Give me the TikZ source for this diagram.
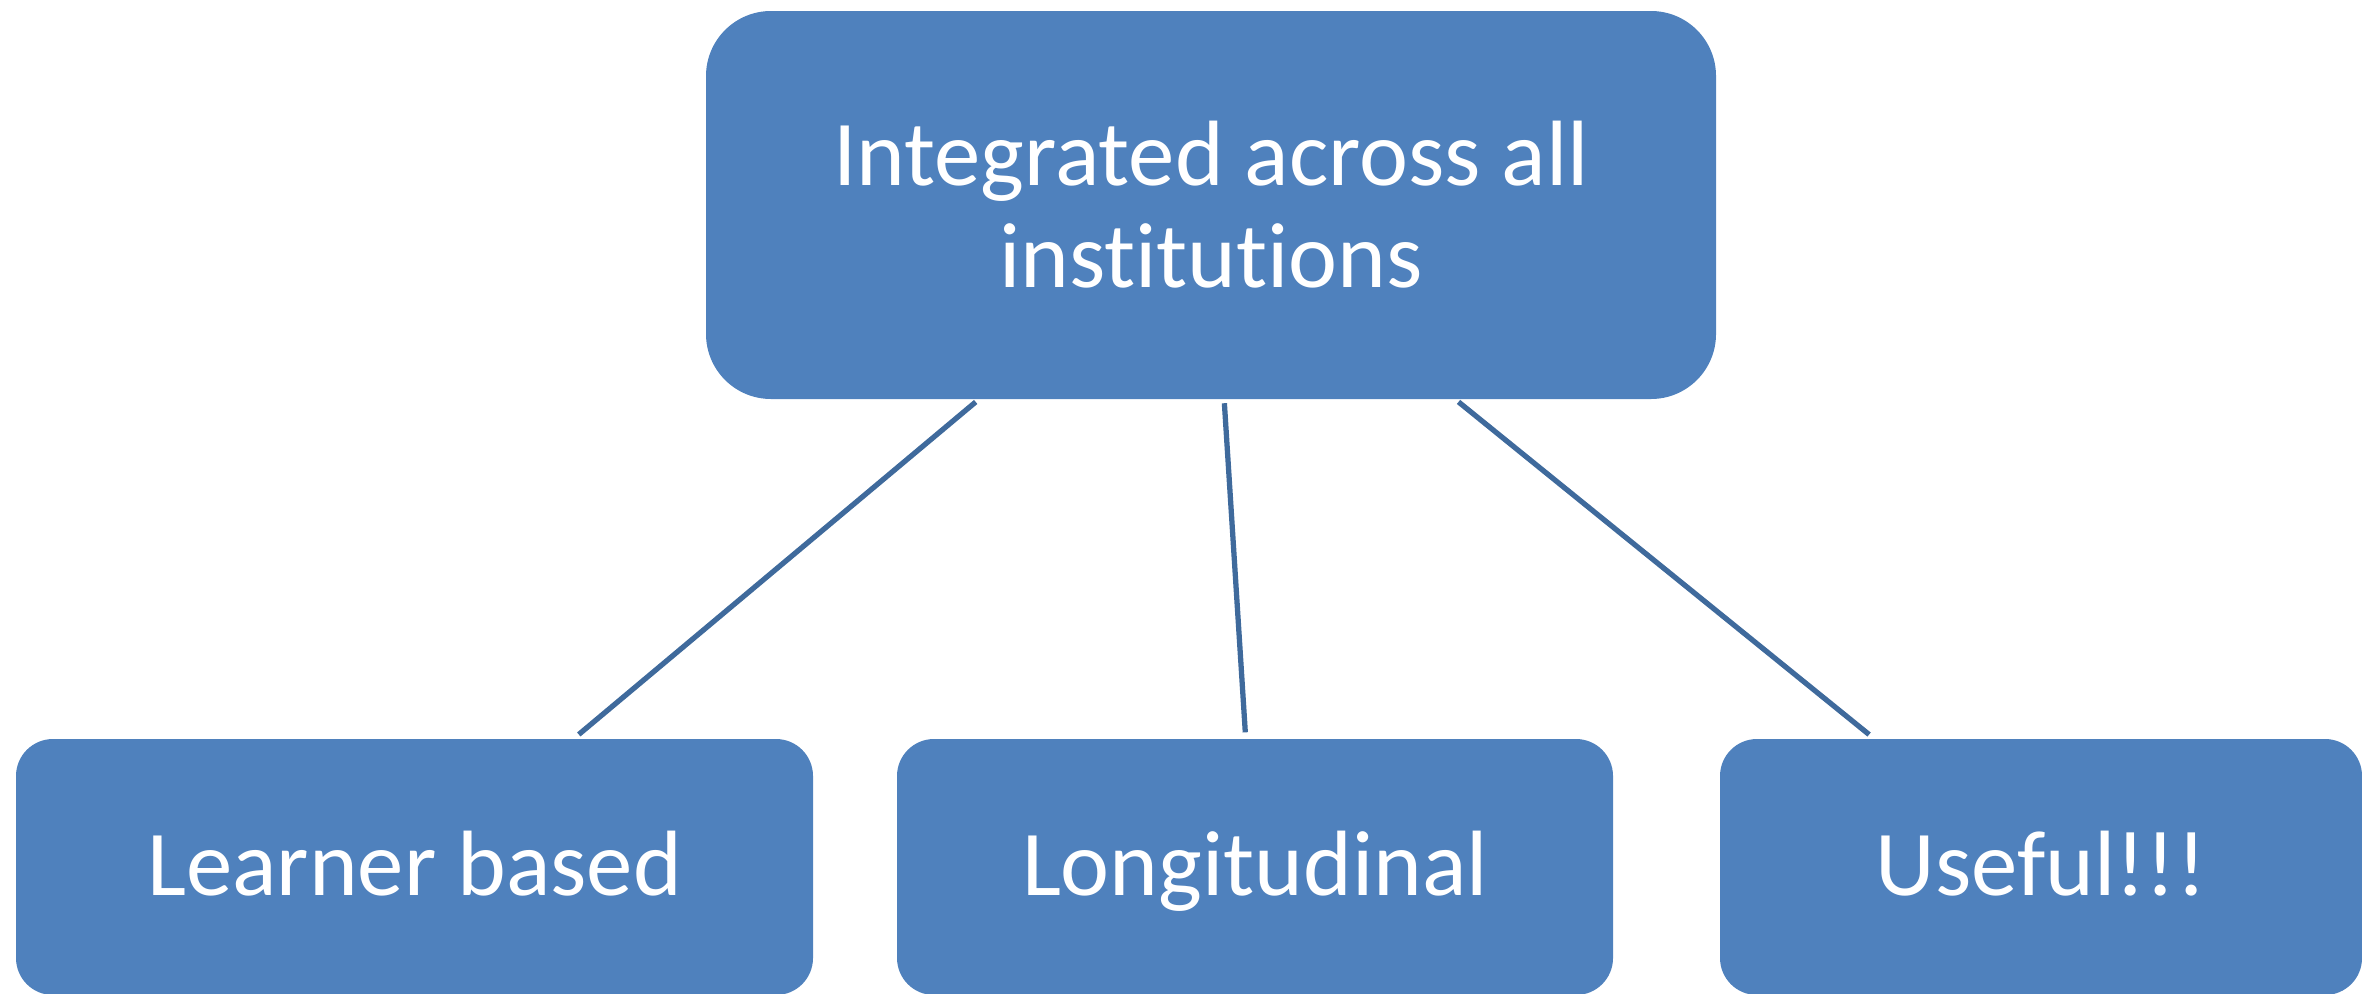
\documentclass[tikz,border=0pt]{standalone}
\usepackage{fontspec}
\setmainfont[Ligatures={NoCommon}]{Carlito}
\usetikzlibrary{calc}
\definecolor{boxblue}{HTML}{4F81BD}
\definecolor{linkblue}{HTML}{3F6A9C}

\begin{document}
\begin{tikzpicture}[
        topbox/.style={rectangle, rounded corners=0.65cm, fill=boxblue, text=white, align=center, minimum width=10.1cm, minimum height=3.88cm, inner sep=0pt, font=\fontsize{26.4}{29}\selectfont},
        leafbox/.style={rectangle, rounded corners=0.37cm, fill=boxblue, text=white, inner sep=0pt, text height=1.56cm, text depth=1.0cm, anchor=base, font=\fontsize{26.4}{29}\selectfont},
        link/.style={draw=linkblue, line width=1.5pt, shorten <=1pt, shorten >=1.7pt}
    ]
        % Frame
        \useasboundingbox (0,0) rectangle (23.62,-9.93);
        \clip (0,0) rectangle (23.62,-9.93);

        % Top box
        \node[topbox] (top) at (12.11,-2.05) {Integrated across all\\institutions};

        % Bottom row
        \node[leafbox, minimum width=7.97cm] (learner) at (4.145,-8.95) {Learner based};
        \node[leafbox, minimum width=7.16cm] (longit) at (12.55,-8.95) {Longitudinal};
        \node[leafbox, minimum width=6.42cm] (useful) at (20.41,-8.95) {Useful!!!};

        % Connecting lines
        \draw[link] ($(top.south west)!0.27!(top.south east)$) -- ($(learner.north west)!0.70!(learner.north east)$);
        \draw[link] ($(top.south west)!0.513!(top.south east)$) -- ($(longit.north west)!0.487!(longit.north east)$);
        \draw[link] ($(top.south west)!0.742!(top.south east)$) -- ($(useful.north west)!0.24!(useful.north east)$);
    \end{tikzpicture}
\end{document}
